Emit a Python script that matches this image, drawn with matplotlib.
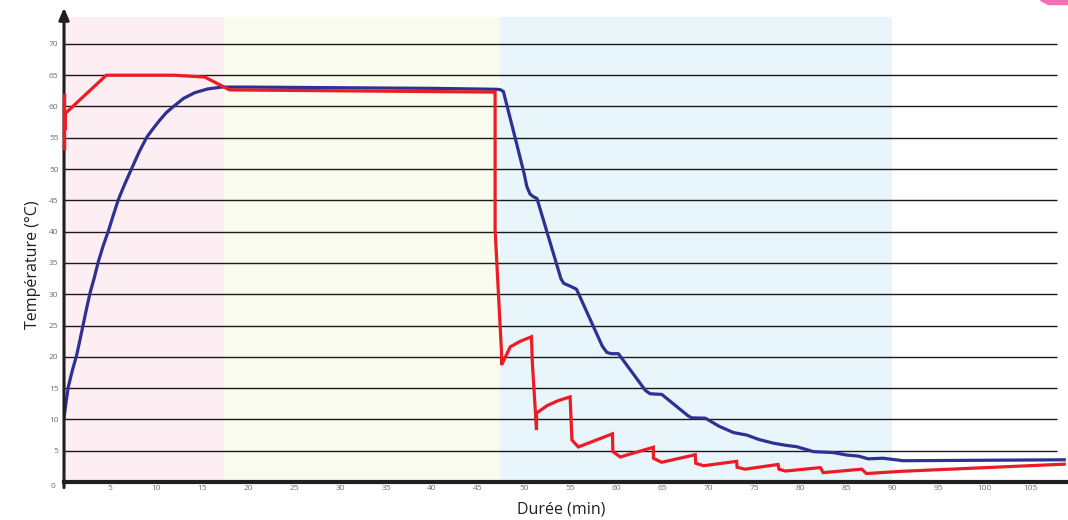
import numpy as np
import matplotlib.pyplot as plt
from matplotlib.patches import Polygon

plt.rcParams['font.family'] = ['Open Sans', 'DejaVu Sans']

# phases (min)
phase_edges = [0, 17.4, 47.4, 90.0]
phase_colors = ['#fdeef3', '#f9fbee', '#e8f5fb']

# product core temperature (blue)
blue_t = [0, 0.22, 0.47, 0.9, 1.38, 1.75, 2.1, 2.45, 2.83, 3.3, 3.75, 4.25, 4.82, 5.35, 5.9,
          6.6, 7.36, 8.15, 9.0, 9.7, 10.4, 11.1, 11.9, 13.0, 14.2, 15.6, 17.1, 20, 30, 40,
          47.0, 47.4, 47.75, 49.2, 50.0, 50.3, 50.65, 51.0, 51.4, 54.0, 54.3,
          55.0, 55.7, 58.5, 59.0, 59.5, 60.25, 63.2, 63.7, 64.96, 67.8, 68.2, 69.7, 71.2,
          72.75, 74.2, 75.5, 77.1, 78.5, 79.6, 81.45, 83.6, 85.1, 86.3, 87.4, 89.0, 91.2, 108.7]
blue_T = [10.2, 12.7, 15.2, 17.8, 20.3, 22.8, 25.25, 27.7, 30.2, 32.7, 35.3, 37.7, 40.1, 42.6, 45.1,
          47.6, 50.1, 52.7, 55.1, 56.5, 57.8, 59.0, 60.0, 61.3, 62.2, 62.8, 63.1, 63.1, 63.0, 62.9,
          62.75, 62.7, 62.4, 54.0, 49.3, 47.2, 46.0, 45.6, 45.3, 32.5, 31.75,
          31.3, 30.8, 21.7, 20.7, 20.5, 20.5, 14.6, 14.1, 14.0, 10.6, 10.25, 10.2, 8.9,
          7.9, 7.5, 6.8, 6.2, 5.85, 5.65, 4.85, 4.7, 4.3, 4.15, 3.7, 3.8, 3.4, 3.55]

# air / enclosure temperature (red)
red_t = [0.15, 0.15, 4.6, 11.9, 15.3, 18.0, 46.7, 46.85, 46.85, 47.55, 47.55, 48.5, 49.6,
         50.8, 50.9, 51.35, 51.35, 52.5, 53.7, 55.0, 55.2, 55.9, 59.6, 59.65, 60.45, 64.05,
         64.05, 64.95, 68.6, 68.65, 69.5, 73.1, 73.15, 74.0, 77.6, 77.7, 78.4, 82.2, 82.5,
         86.7, 87.2, 90.9, 108.7]
red_T = [56.5, 58.9, 65.0, 65.0, 64.7, 62.65, 62.3, 62.3, 40.3, 20.6, 18.7, 21.6, 22.5,
         23.2, 19.0, 8.3, 11.0, 12.2, 13.0, 13.6, 6.7, 5.6, 7.7, 4.85, 4.0, 5.55,
         3.8, 3.15, 4.35, 3.0, 2.6, 3.3, 2.35, 2.05, 2.8, 2.05, 1.75, 2.3, 1.5,
         2.05, 1.35, 1.7, 2.85]
red_start = [53.3, 61.9]

yticks = list(range(5, 75, 5))
xticks = list(range(5, 110, 5))

fig = plt.figure(figsize=(10.68, 5.2), dpi=100)
ax = fig.add_axes([64 / 1068, 38 / 520, 1003 / 1068, 465 / 520])
ax.set_xlim(0, 109)
ax.set_ylim(0, 74.3)

for i in range(3):
    ax.axvspan(phase_edges[i], phase_edges[i + 1], color=phase_colors[i], lw=0, zorder=0)
ax.hlines(yticks, 0, 107.9, color='#1a1a1a', lw=1.0, zorder=1)

ax.plot(blue_t, blue_T, color='#2e3192', lw=2.3, zorder=3, solid_joinstyle='round')
ax.plot(red_t, red_T, color='#ed1c24', lw=2.3, zorder=4, solid_joinstyle='miter')
ax.plot([0, 0], red_start, color='#ed1c24', lw=2.5, zorder=6, clip_on=False)

for s in ['top', 'right', 'left']:
    ax.spines[s].set_visible(False)
ax.spines['bottom'].set_linewidth(3)
ax.spines['bottom'].set_color('#231f20')
ax.spines['bottom'].set_zorder(5)
ax.annotate('', xy=(0, 1.02), xytext=(0, -0.012), xycoords='axes fraction',
            arrowprops=dict(arrowstyle='-|>,head_width=0.3,head_length=0.7',
                            color='#231f20', lw=2.2, shrinkA=0, shrinkB=0), zorder=5)

ax.set_xticks(xticks)
ax.set_yticks(yticks)
ax.tick_params(length=0, labelsize=6, labelcolor='#6d6e71')
ax.tick_params(axis='x', pad=2)
ax.tick_params(axis='y', pad=4)
ax.text(-1.2, -0.7, '0', fontsize=6, color='#6d6e71', ha='center', va='center', clip_on=False)

fig.text(561 / 1068, 1 - 510 / 520, 'Durée (min)', fontsize=11.5, color='#231f20',
         ha='center', va='center')
fig.text(33 / 1068, 1 - 265 / 520, 'Température (°C)', fontsize=11.5, color='#231f20',
         ha='center', va='center', rotation=90)

fig.patches.append(Polygon([[1040 / 1068, 1], [1 + 0.01, 1], [1 + 0.01, 1 - 4 / 520],
                            [1048 / 1068, 1 - 4 / 520]], closed=True, color='#f072b0',
                           transform=fig.transFigure, figure=fig))

fig.savefig('out.png', dpi=100)
